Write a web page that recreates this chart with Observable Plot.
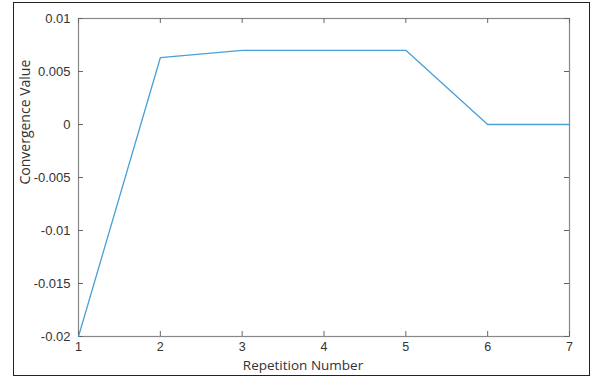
<!DOCTYPE html>
<html>
<head>
<meta charset="utf-8">
<script src="https://cdn.jsdelivr.net/npm/d3@7"></script>
<script src="https://cdn.jsdelivr.net/npm/@observablehq/plot@0.6"></script>
<style>
  html, body { margin: 0; padding: 0; background: #fff; }
  #wrap { position: relative; width: 593px; height: 379px; }
  #border { position: absolute; left: 13px; top: 2px; width: 575px; height: 372px; border: 1px solid #222; pointer-events: none; }
</style>
</head>
<body>
<div id="wrap"><div id="border"></div></div>
<script>
const repetition = [1, 2, 3, 4, 5, 6, 7];
const convergence = [-0.02, 0.0063, 0.007, 0.007, 0.007, 0, 0];
const xTicks = [1, 2, 3, 4, 5, 6, 7];
const xTickLabels = ["1", "2", "3", "4", "5", "6", "7"];
const yTicks = [-0.02, -0.015, -0.01, -0.005, 0, 0.005, 0.01];
const yTickLabels = ["-0.02", "-0.015", "-0.01", "-0.005", "0", "0.005", "0.01"];
const xLabel = "Repetition Number";
const yLabel = "Convergence Value";

const data = repetition.map((r, i) => ({r, v: convergence[i]}));
const W = 593, H = 379, mL = 78, mT = 18, mR = 24, mB = 43;
const innerH = H - mT - mB, innerW = W - mL - mR, tk = 5;

const chart = Plot.plot({
  width: W, height: H,
  marginLeft: mL, marginTop: mT, marginRight: mR, marginBottom: mB,
  style: {fontFamily: "'Liberation Sans', Arial, sans-serif", fontSize: "13px", color: "#333", background: "transparent"},
  x: {domain: [1, 7], ticks: xTicks},
  y: {domain: [-0.02, 0.01], ticks: yTicks},
  marks: [
    Plot.frame({stroke: "#888", strokeWidth: 1.2}),
    Plot.tickX(xTicks, {x: d => d, stroke: "#666", insetTop: innerH - tk}),
    Plot.tickX(xTicks, {x: d => d, stroke: "#666", insetBottom: innerH - tk}),
    Plot.tickY(yTicks, {y: d => d, stroke: "#666", insetRight: innerW - tk}),
    Plot.tickY(yTicks, {y: d => d, stroke: "#666", insetLeft: innerW - tk}),
    Plot.axisX({ticks: xTicks, tickSize: 0, tickPadding: 6, label: null, tickFormat: (d, i) => xTickLabels[i], fontSize: 12.5, fill: "#333"}),
    Plot.axisY({ticks: yTicks, tickSize: 0, tickPadding: 8, label: null, tickFormat: (d, i) => yTickLabels[i], fontSize: 13, fill: "#333"}),
    Plot.line(data, {x: "r", y: "v", stroke: "#4a9fd6", strokeWidth: 1.3}),
    Plot.text([xLabel], {frameAnchor: "bottom", dx: -21, dy: 33, text: d => d, fontFamily: "'Open Sans', sans-serif", fontSize: 13.5, fill: "#333"}),
    Plot.text([yLabel], {frameAnchor: "left", dx: -53, dy: 7, rotate: -90, text: d => d, fontFamily: "'Open Sans', sans-serif", fontSize: 14, fill: "#333"})
  ]
});
document.getElementById("wrap").appendChild(chart);
chart.style.position = "absolute";
chart.style.left = "0";
chart.style.top = "0";
</script>
</body>
</html>
